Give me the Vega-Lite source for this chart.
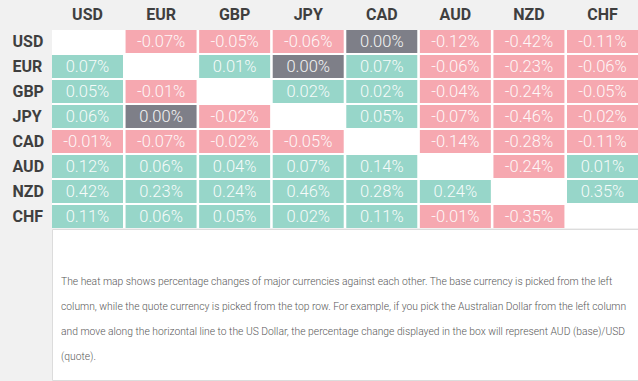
{
  "$schema": "https://vega.github.io/schema/vega-lite/v6.json",
  "background": "#f1f1f1",
  "padding": 0,
  "spacing": 0,
  "config": {
    "locale": {"number": {"decimal": ".", "thousands": ",", "grouping": [3], "currency": ["$", ""], "minus": "-"}},
    "axis": {"domain": false, "grid": false, "ticks": false, "tickSize": 0, "title": null},
    "font": "Roboto"
  },
  "vconcat": [
    {
      "width": 586,
      "height": 198,
      "view": {"fill": "white", "stroke": null},
      "data": {"values": [
        {"base": "USD", "quote": "EUR", "value": -0.0007},
        {"base": "USD", "quote": "GBP", "value": -0.0005},
        {"base": "USD", "quote": "JPY", "value": -0.0006},
        {"base": "USD", "quote": "CAD", "value": 0.0},
        {"base": "USD", "quote": "AUD", "value": -0.0012},
        {"base": "USD", "quote": "NZD", "value": -0.0042},
        {"base": "USD", "quote": "CHF", "value": -0.0011},
        {"base": "EUR", "quote": "USD", "value": 0.0007},
        {"base": "EUR", "quote": "GBP", "value": 0.0001},
        {"base": "EUR", "quote": "JPY", "value": 0.0},
        {"base": "EUR", "quote": "CAD", "value": 0.0007},
        {"base": "EUR", "quote": "AUD", "value": -0.0006},
        {"base": "EUR", "quote": "NZD", "value": -0.0023},
        {"base": "EUR", "quote": "CHF", "value": -0.0006},
        {"base": "GBP", "quote": "USD", "value": 0.0005},
        {"base": "GBP", "quote": "EUR", "value": -0.0001},
        {"base": "GBP", "quote": "JPY", "value": 0.0002},
        {"base": "GBP", "quote": "CAD", "value": 0.0002},
        {"base": "GBP", "quote": "AUD", "value": -0.0004},
        {"base": "GBP", "quote": "NZD", "value": -0.0024},
        {"base": "GBP", "quote": "CHF", "value": -0.0005},
        {"base": "JPY", "quote": "USD", "value": 0.0006},
        {"base": "JPY", "quote": "EUR", "value": 0.0},
        {"base": "JPY", "quote": "GBP", "value": -0.0002},
        {"base": "JPY", "quote": "CAD", "value": 0.0005},
        {"base": "JPY", "quote": "AUD", "value": -0.0007},
        {"base": "JPY", "quote": "NZD", "value": -0.0046},
        {"base": "JPY", "quote": "CHF", "value": -0.0002},
        {"base": "CAD", "quote": "USD", "value": -0.0001},
        {"base": "CAD", "quote": "EUR", "value": -0.0007},
        {"base": "CAD", "quote": "GBP", "value": -0.0002},
        {"base": "CAD", "quote": "JPY", "value": -0.0005},
        {"base": "CAD", "quote": "AUD", "value": -0.0014},
        {"base": "CAD", "quote": "NZD", "value": -0.0028},
        {"base": "CAD", "quote": "CHF", "value": -0.0011},
        {"base": "AUD", "quote": "USD", "value": 0.0012},
        {"base": "AUD", "quote": "EUR", "value": 0.0006},
        {"base": "AUD", "quote": "GBP", "value": 0.0004},
        {"base": "AUD", "quote": "JPY", "value": 0.0007},
        {"base": "AUD", "quote": "CAD", "value": 0.0014},
        {"base": "AUD", "quote": "NZD", "value": -0.0024},
        {"base": "AUD", "quote": "CHF", "value": 0.0001},
        {"base": "NZD", "quote": "USD", "value": 0.0042},
        {"base": "NZD", "quote": "EUR", "value": 0.0023},
        {"base": "NZD", "quote": "GBP", "value": 0.0024},
        {"base": "NZD", "quote": "JPY", "value": 0.0046},
        {"base": "NZD", "quote": "CAD", "value": 0.0028},
        {"base": "NZD", "quote": "AUD", "value": 0.0024},
        {"base": "NZD", "quote": "CHF", "value": 0.0035},
        {"base": "CHF", "quote": "USD", "value": 0.0011},
        {"base": "CHF", "quote": "EUR", "value": 0.0006},
        {"base": "CHF", "quote": "GBP", "value": 0.0005},
        {"base": "CHF", "quote": "JPY", "value": 0.0002},
        {"base": "CHF", "quote": "CAD", "value": 0.0011},
        {"base": "CHF", "quote": "AUD", "value": -0.0001},
        {"base": "CHF", "quote": "NZD", "value": -0.0035}
      ]},
      "encoding": {
        "x": {
          "field": "quote", "type": "nominal",
          "sort": ["USD", "EUR", "GBP", "JPY", "CAD", "AUD", "NZD", "CHF"],
          "scale": {"domain": ["USD", "EUR", "GBP", "JPY", "CAD", "AUD", "NZD", "CHF"], "paddingInner": 0.035, "paddingOuter": 0},
          "axis": {"orient": "top", "labelAngle": 0, "labelFont": "Roboto", "labelFontWeight": "bold", "labelFontSize": 16, "labelColor": "#3f3f3f", "labelBaseline": "alphabetic", "labelPadding": 11, "minExtent": 30, "maxExtent": 30}
        },
        "y": {
          "field": "base", "type": "nominal",
          "scale": {"domain": ["USD", "EUR", "GBP", "JPY", "CAD", "AUD", "NZD", "CHF"], "paddingInner": 0.08, "paddingOuter": 0},
          "axis": {"labelAlign": "left", "labelFont": "Roboto", "labelFontWeight": "bold", "labelFontSize": 16, "labelColor": "#3f3f3f", "labelPadding": 40, "minExtent": 52, "maxExtent": 52}
        }
      },
      "layer": [
        {
          "mark": {"type": "rect"},
          "encoding": {
            "color": {
              "field": "value", "type": "quantitative",
              "scale": {"type": "threshold", "domain": [-0.00001, 0.00001], "range": ["#f6a8b0", "#7e7f88", "#97d6c9"]},
              "legend": null
            }
          }
        },
        {
          "mark": {"type": "text", "font": "Roboto", "fontWeight": 300, "fontSize": 16.5, "color": "white", "opacity": 0.92},
          "encoding": {
            "text": {"field": "value", "type": "quantitative", "format": ".2%"}
          }
        }
      ]
    },
    {
      "width": 638,
      "height": 151,
      "view": {"fill": "white", "stroke": "#dcdcdc"},
      "data": {"values": [
        {"line": 1, "text": "The heat map shows percentage changes of major currencies against each other. The base currency is picked from the left"},
        {"line": 2, "text": "column, while the quote currency is picked from the top row. For example, if you pick the Australian Dollar from the left column"},
        {"line": 3, "text": "and move along the horizontal line to the US Dollar, the percentage change displayed in the box will represent AUD (base)/USD"},
        {"line": 4, "text": "(quote)."}
      ]},
      "mark": {"type": "text", "align": "left", "baseline": "middle", "dx": 9, "font": "Roboto", "fontWeight": 300, "fontSize": 10.3, "color": "#585858"},
      "encoding": {
        "x": {"datum": 0, "type": "quantitative", "scale": {"domain": [0, 1]}, "axis": null},
        "y": {"field": "line", "type": "quantitative", "scale": {"domain": [-1.1, 4.9], "reverse": true, "nice": false, "zero": false}, "axis": null},
        "text": {"field": "text", "type": "nominal"}
      }
    }
  ]
}
